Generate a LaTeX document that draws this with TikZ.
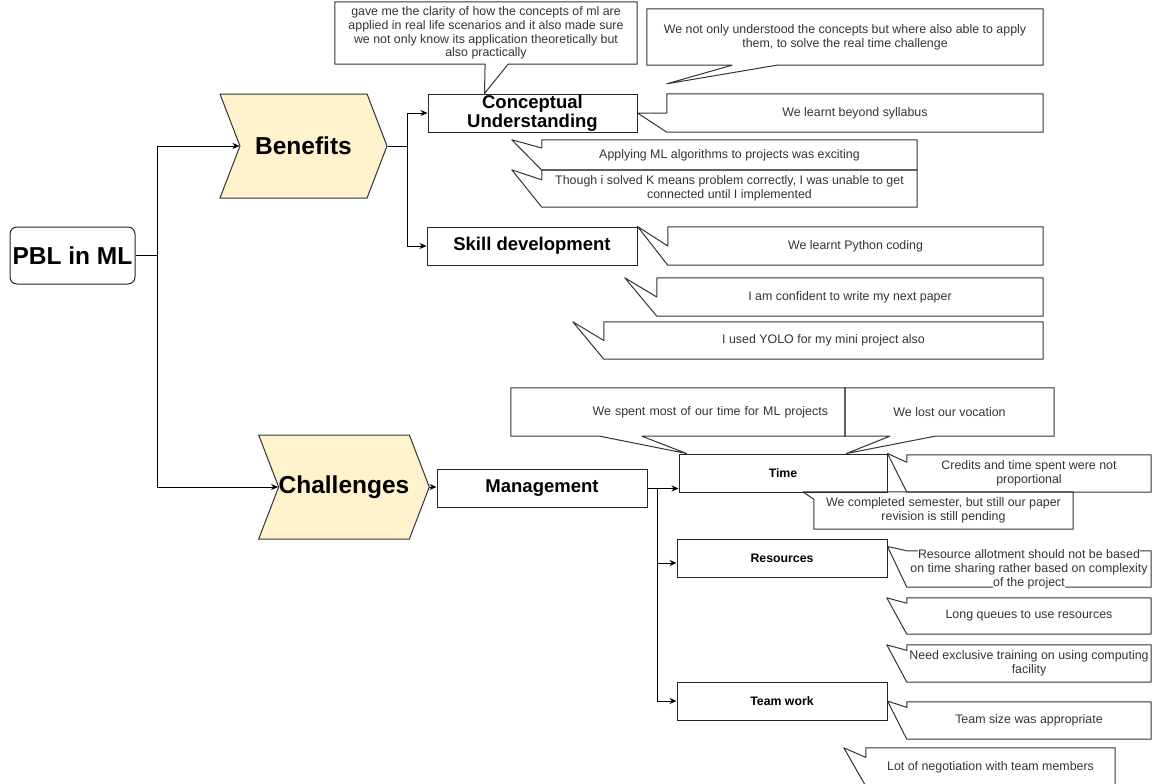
\documentclass[tikz,border=0pt]{standalone}
\usepackage{fontspec}
\setmainfont{Liberation Sans}
\usetikzlibrary{calc}
\usetikzlibrary{arrows.meta}
\usetikzlibrary{shapes.symbols}
\usetikzlibrary{backgrounds}

\definecolor{chevfill}{HTML}{FFF2CC}
\newcommand{\notefont}{\fontsize{12.4}{13.8}\selectfont}
\newcommand{\wbox}[1]{{\setlength{\fboxsep}{0pt}\colorbox{white}{#1}}}
% callout outline, pointer on the left side (#3,#4: 0 = top, 1 = bottom)
\newcommand{\noteleft}[4]{%
  \begin{scope}[on background layer]
    \draw[noteline] (#1.north west) -- (#1.north east) -- (#1.south east) -- (#1.south west)
      -- ($(#1.north west)!#4!(#1.south west)$) -- (#2) -- ($(#1.north west)!#3!(#1.south west)$) -- cycle;
  \end{scope}}
% callout outline, pointer on the bottom side (#3,#4: 0 = left, 1 = right)
\newcommand{\notedown}[4]{%
  \begin{scope}[on background layer]
    \draw[noteline] (#1.north west) -- (#1.north east) -- (#1.south east)
      -- ($(#1.south west)!#4!(#1.south east)$) -- (#2) -- ($(#1.south west)!#3!(#1.south east)$) -- (#1.south west) -- cycle;
  \end{scope}}

\tikzset{
  note/.style={rectangle, inner sep=1pt, align=center, text=black!80, font=\notefont},
  box/.style={rectangle, draw=black!85, line width=1pt, inner sep=0pt, align=center,
    font=\fontsize{18.5}{19}\selectfont\bfseries},
  smallbox/.style={box, font=\fontsize{12.3}{14}\selectfont\bfseries},
  chevron/.style={shape=signal, signal from=west, signal to=east, signal pointer angle=138,
    draw=black!80, fill=chevfill, line width=1pt, inner sep=0pt,
    font=\fontsize{24.5}{28}\selectfont\bfseries},
  conn/.style={line width=1pt, -{Stealth[length=7pt,width=6pt]}},
  wire/.style={line width=1pt},
  noteline/.style={draw=black!80, line width=1pt, line join=round},
}

\begin{document}
\begin{tikzpicture}[x=1pt,y=-1pt]
  \useasboundingbox (0,0) rectangle (1154,784);
  \clip (0,0) rectangle (1154,784);

  % main tree
  \node[box, rounded corners=7, font=\fontsize{24.5}{28}\selectfont\bfseries,
    minimum width=125, minimum height=57] (pbl) at (72.5,255.5) {PBL in ML};
  \node[chevron, minimum width=167, minimum height=104] (ben) at (303.5,146) {Benefits};
  \node[chevron, minimum width=166, minimum height=104] (chal) at (344,487) {Challenges};

  \node[box, minimum width=209, minimum height=38] (cu) at (532.5,113) {Conceptual\\Understanding};
  \node[box, minimum width=210, minimum height=38] (skill) at (532,246) {Skill development};
  \node[box, minimum width=210, minimum height=38] (mgmt) at (542,488) {Management};
  \node[smallbox, minimum width=208, minimum height=38] (time) at (783,473) {Time};
  \node[smallbox, minimum width=210, minimum height=38] (res) at (782,558) {Resources};
  \node[smallbox, minimum width=210, minimum height=38] (team) at (782,701) {Team work};

  \draw[conn] (pbl.east) -- ++(22,0) coordinate (pblsplit) |- (ben.west);
  \draw[conn] (pblsplit) |- (chal.west);
  \draw[conn] (ben.east) -- ++(20,0) coordinate (bensplit) |- (cu.west);
  \draw[conn] (bensplit) |- (skill.west);
  \draw[conn] (chal.east) -- (chal.east -| mgmt.west);
  \draw[wire] (mgmt.east) -- ++(10,0) coordinate (mgmtsplit);
  \draw[conn] (mgmtsplit) |- ($(time.south west)+(0,-4)$);
  \draw[conn] (mgmtsplit) |- ($(res.west)+(0,5)$);
  \draw[conn] (mgmtsplit) |- (team.west);

  % benefits: conceptual understanding
  \node[note, minimum width=302, minimum height=62] (clarity) at (486,33)
    {gave me the clarity of how the concepts of ml are\\applied in real life scenarios and it also made sure\\we not only know its application theoretically but\\also practically};
  \notedown{clarity}{$(cu.north west)+(57,0)$}{0.497}{0.573}
  \node[note, minimum width=396, minimum height=56] (apply) at (845,37)
    {We not only understood the concepts but where also able to apply\\them, to solve the real time challenge};
  \node[note, minimum width=376, minimum height=38] (syllabus) at (855,113) {We learnt beyond syllabus};
  \notedown{apply}{$(syllabus.north west)+(0,-10)$}{0.215}{0.328}
  \noteleft{syllabus}{cu.east}{0.5}{1}
  \node[note, minimum width=375, minimum height=30] (exciting) at (729.5,155)
    {Applying ML algorithms to projects was exciting};
  \noteleft{exciting}{$(exciting.north west)+(-30,0)$}{0.27}{1}
  \node[note, minimum width=375, minimum height=37] (kmeans) at (729.5,188.5)
    {Though i solved K means problem correctly, I was unable to get\\connected until I implemented};
  \noteleft{kmeans}{$(kmeans.north west)+(-30,0)$}{0.27}{1}

  % benefits: skill development
  \node[note, minimum width=375, minimum height=38] (python) at (855.5,246) {We learnt Python coding};
  \noteleft{python}{skill.north east}{0.5}{1}
  \node[note, minimum width=386, minimum height=38] (nextpaper) at (850,297) {I am confident to write my next paper};
  \noteleft{nextpaper}{$(nextpaper.north west)+(-32,0)$}{0.5}{1}
  \node[note, minimum width=439, minimum height=37] (yolo) at (823.5,340.5) {I used YOLO for my mini project also};
  \noteleft{yolo}{$(yolo.north west)+(-31,0)$}{0.5}{1}

  % challenges: time
  \node[note, minimum width=334, minimum height=48, text width=300, align=right] (spent) at (678,412)
    {We spent most of our time for ML projects};
  \notedown{spent}{$(time.north west)+(8,0)$}{0.266}{0.392}
  \node[note, minimum width=209, minimum height=48] (vocation) at (949.5,412) {We lost our vocation};
  \notedown{vocation}{$(time.north east)+(-41,0)$}{0.215}{0.431}
  \node[note, minimum width=244, minimum height=37] (credits) at (1029,473.5)
    {Credits and time spent were not\\proportional};
  \noteleft{credits}{time.north east}{0.2}{1}
  \node[note, minimum width=259, minimum height=37] (pending) at (943.5,510.5)
    {We completed semester, but still our paper\\revision is still pending};
  \noteleft{pending}{$(pending.north west)+(-11,0)$}{0}{0.2}

  % challenges: resources
  \node[note, inner ysep=-3pt, minimum width=244, minimum height=36] (allot) at (1029,569)
    {\wbox{Resource allotment should not be based}\\\wbox{on time sharing rather based on complexity}\\\wbox{of the project}};
  \noteleft{allot}{$(res.north east)+(0,8)$}{0}{1}
  \node[note, minimum width=244, minimum height=36] (queue) at (1029,616) {Long queues to use resources};
  \noteleft{queue}{$(queue.north west)+(-20,0)$}{0.15}{1}
  \node[note, minimum width=244, minimum height=37] (training) at (1029,663.5)
    {Need exclusive training on using computing\\facility};
  \noteleft{training}{$(training.north west)+(-20,0)$}{0.15}{1}

  % challenges: team work
  \node[note, minimum width=244, minimum height=37] (teamsize) at (1029,720.5) {Team size was appropriate};
  \noteleft{teamsize}{team.east}{0.15}{1}
  \node[note, minimum width=249, minimum height=38] (negotiation) at (990.5,767) {Lot of negotiation with team members};
  \noteleft{negotiation}{$(negotiation.north west)+(-22,0)$}{0.25}{1}
\end{tikzpicture}
\end{document}
